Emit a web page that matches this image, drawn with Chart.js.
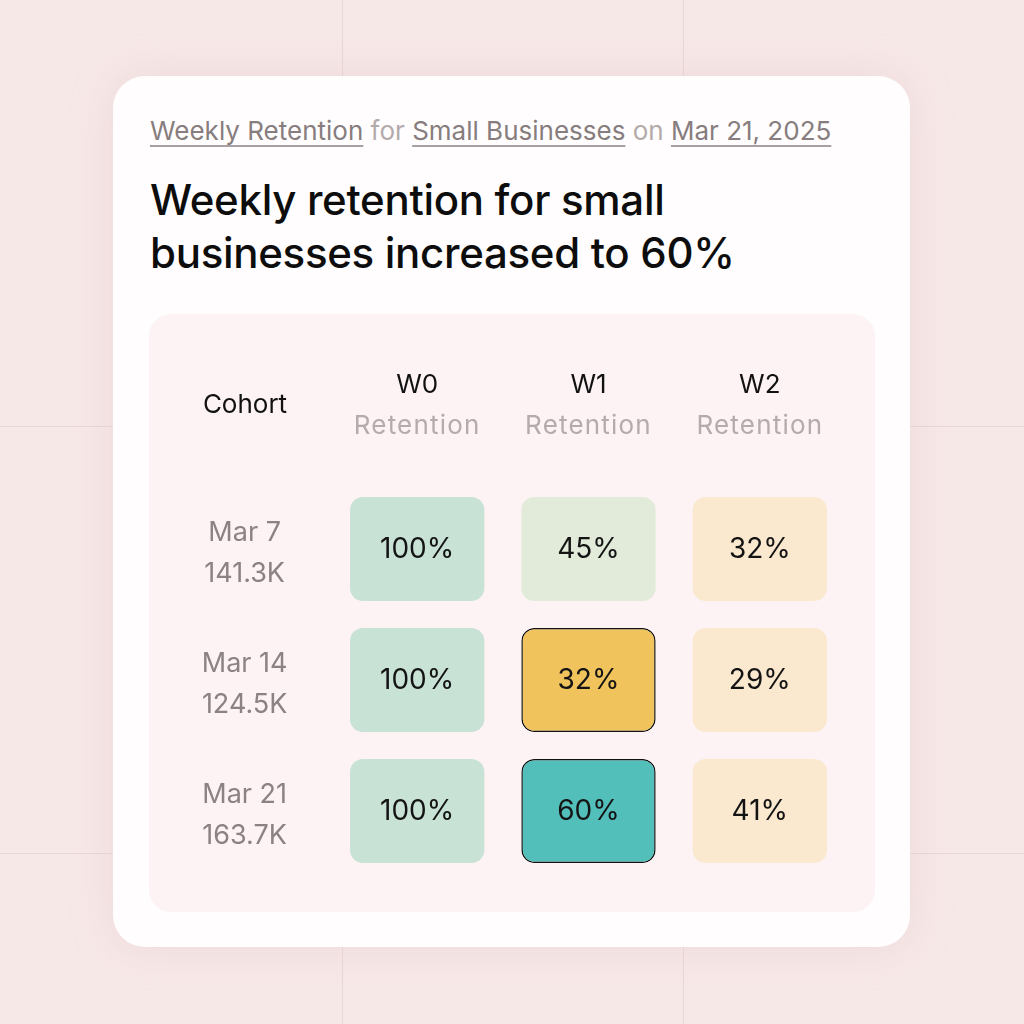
<!DOCTYPE html>
<html>
<head>
<meta charset="utf-8">
<script src="https://cdn.jsdelivr.net/npm/chart.js@4.4.1/dist/chart.umd.min.js"></script>
<style>
  html, body { margin:0; padding:0; }
  body {
    width:1024px; height:1024px; overflow:hidden; position:relative;
    background-color:#f7e8e8;
    font-family: Inter, "Noto Sans", sans-serif;
  }
  .vline { position:absolute; top:0; bottom:0; width:1px; background:#ead6d7; }
  .hline { position:absolute; left:0; right:0; height:1px; background:#ead6d7; }
  .card {
    position:absolute; left:113px; top:76px; width:797px; height:871px;
    background:#fffdfd; border-radius:32px;
    box-shadow:0 0 40px rgba(220,190,190,0.35);
  }
  .sub {
    position:absolute; left:37px; top:39px; font-size:26px; color:#b3abab;
    white-space:nowrap;
  }
  .sub u { color:#877d7e; text-decoration-color:#a99fa0; text-underline-offset:5px; text-decoration-thickness:1.5px; }
  .title {
    position:absolute; left:37px; top:97px; font-size:42px; line-height:53px;
    color:#0d0d0d; font-weight:500; letter-spacing:-0.3px; white-space:nowrap;
  }
  .panel {
    position:absolute; left:149px; top:314px; width:726px; height:598px;
    background:#fdf2f4; border-radius:22px;
  }
  #wrap { position:absolute; left:149px; top:314px; width:726px; height:598px; }
</style>
</head>
<body>
<div class="vline" style="left:342px"></div>
<div class="vline" style="left:683px"></div>
<div class="hline" style="top:426px"></div>
<div class="hline" style="top:853px"></div>
<div class="card">
  <div class="sub"><u>Weekly Retention</u> for <u>Small Businesses</u> on <u>Mar 21, 2025</u></div>
  <div class="title">Weekly retention for small<br>businesses increased to 60%</div>
</div>
<div class="panel"></div>
<div id="wrap"><canvas id="cohort"></canvas></div>
<script>
// data
var cohorts = ["Mar 7", "Mar 14", "Mar 21"];
var cohort_sizes = ["141.3K", "124.5K", "163.7K"];
var weeks = ["W0", "W1", "W2"];
var w0_retention = [100, 100, 100];
var w1_retention = [45, 32, 60];
var w2_retention = [32, 29, 41];
// highlighted cells: [row, column]
var highlighted = [[1, 1], [2, 1]];

var values = [w0_retention, w1_retention, w2_retention];

function is_highlighted(row, col){
    for (var i = 0; i < highlighted.length; i++) {
        if (highlighted[i][0] == row && highlighted[i][1] == col) return true;
    }
    return false;
}
function cell_color(v, row, col){
    if (is_highlighted(row, col)) return v >= 50 ? '#53bfbb' : '#f0c35c';
    if (v >= 90) return '#c9e2d6';
    if (v >= 45) return '#e2ebda';
    return '#fbe9cf';
}

var pad = 0.108;
var datasets = [];
for (var c = 0; c < weeks.length; c++) {
    var data = [], bg = [], bw = [];
    for (var r = 0; r < cohorts.length; r++) {
        data.push([c + pad, c + 1 - pad]);
        bg.push(cell_color(values[c][r], r, c));
        bw.push(is_highlighted(r, c) ? 1.5 : 0);
    }
    datasets.push({
        label: weeks[c],
        data: data,
        retention: values[c],
        backgroundColor: bg,
        borderColor: '#111111',
        borderWidth: bw,
        borderRadius: 13,
        borderSkipped: false
    });
}

var cell_labels = {
    id: 'cell_labels',
    afterDatasetsDraw: function(chart){
        var ctx = chart.ctx;
        ctx.save();
        ctx.font = '400 28px Inter, "Noto Sans", sans-serif';
        ctx.fillStyle = '#141414';
        ctx.textAlign = 'center';
        ctx.textBaseline = 'middle';
        chart.data.datasets.forEach(function(ds, i){
            chart.getDatasetMeta(i).data.forEach(function(bar, j){
                ctx.fillText(ds.retention[j] + '%', (bar.x + bar.base) / 2, bar.y + 1);
            });
        });
        ctx.restore();
    }
};

var header = {
    id: 'header',
    afterDraw: function(chart){
        var ctx = chart.ctx;
        var x = chart.scales.x, y = chart.scales.y;
        ctx.save();
        ctx.textAlign = 'center';
        ctx.textBaseline = 'middle';
        ctx.font = '400 26px Inter, "Noto Sans", sans-serif';
        ctx.fillStyle = '#111111';
        ctx.fillText('Cohort', (y.left + y.right) / 2, 91);
        for (var c = 0; c < weeks.length; c++) {
            var px = x.getPixelForValue(c + 0.5);
            ctx.fillStyle = '#111111';
            ctx.letterSpacing = '0px';
            ctx.fillText(weeks[c], px, 71);
            ctx.fillStyle = '#b3abad';
            ctx.letterSpacing = '1.2px';
            ctx.fillText('Retention', px, 112);
        }
        ctx.restore();
    }
};

var labels = [];
for (var r = 0; r < cohorts.length; r++) labels.push([cohorts[r], cohort_sizes[r]]);

new Chart(document.getElementById('cohort').getContext('2d'), {
    type: 'bar',
    data: { labels: labels, datasets: datasets },
    options: {
        indexAxis: 'y',
        responsive: true,
        maintainAspectRatio: false,
        animation: false,
        events: [],
        grouped: false,
        categoryPercentage: 1,
        barPercentage: 0.794,
        layout: { padding: { left: 9.5, right: 29.5, top: 169.5, bottom: 35.5 } },
        plugins: { legend: { display: false }, tooltip: { enabled: false } },
        scales: {
            x: { type: 'linear', min: 0, max: 3, display: false },
            y: {
                type: 'category',
                grid: { display: false },
                border: { display: false },
                afterFit: function(scale){
                    scale.width = 173;
                    scale.paddingTop = 0;
                    scale.paddingBottom = 0;
                },
                ticks: {
                    crossAlign: 'center',
                    padding: 36,
                    labelOffset: 4,
                    color: '#8a8283',
                    font: { family: 'Inter, "Noto Sans", sans-serif', size: 27, lineHeight: 1.52 }
                }
            }
        }
    },
    plugins: [cell_labels, header]
});
</script>
</body>
</html>
